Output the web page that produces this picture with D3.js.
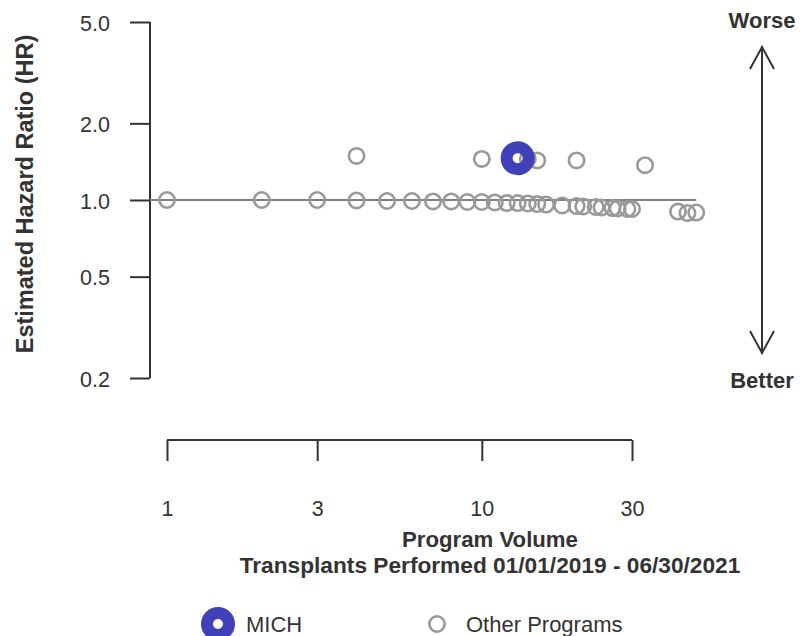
<!DOCTYPE html>
<html><head><meta charset="utf-8">
<script src="https://cdn.jsdelivr.net/npm/d3@7"></script>
<style>body{margin:0;background:#fff}text{font-family:"Liberation Sans",Arial,sans-serif}</style>
</head><body>
<svg id="c" width="806" height="636"></svg>
<script>
// Data
const otherVolume = [1,2,3,4,5,6,7,8,9,10,11,12,13,14,15,16,18,20,21,23,24,26,27,29,30,42,45,48, 4,10,14,15,20,33];
const otherHR     = [1.0,1.0,1.0,0.996,0.991,0.991,0.987,0.987,0.982,0.982,0.978,0.973,0.973,0.969,0.964,0.96,0.952,0.947,0.943,0.939,0.935,0.93,0.926,0.922,0.922,0.901,0.889,0.893, 1.49,1.45,1.45,1.43,1.43,1.37];
const michVolume = [13];
const michHR = [1.46];
const yTicks = [0.2,0.5,1.0,2.0,5.0];
const xTicks = [1,3,10,30];

const svg = d3.select("#c");
const ink = "#333";
const FF = "Liberation Sans, Arial, sans-serif";
const x = d3.scaleLog().domain([1,30]).range([167,632]);
const y = d3.scaleLog().domain([0.2,5]).range([378,22]);

// y axis
const yAx = svg.append("g").attr("transform","translate(150,0)")
  .call(d3.axisLeft(y).tickValues(yTicks).tickFormat(d3.format(".1f")).tickSize(20).tickPadding(20));
yAx.select(".domain").attr("stroke",ink).attr("stroke-width",2).attr("d","M0,22H0V378H0");
yAx.selectAll(".tick line").attr("stroke",ink).attr("stroke-width",2);
yAx.selectAll(".tick text").attr("fill",ink).attr("dy",null).attr("y",8)
  .style("font-size","21.5px").style("font-family",FF);

// x axis
const xAx = svg.append("g").attr("transform","translate(0,440)")
  .call(d3.axisBottom(x).tickValues(xTicks).tickFormat(d3.format("d")).tickSize(21));
xAx.select(".domain").attr("stroke",ink).attr("stroke-width",2).attr("d","M167,0H632");
xAx.selectAll(".tick line").attr("stroke",ink).attr("stroke-width",2);
xAx.selectAll(".tick text").attr("fill",ink).attr("dy",null).attr("y",76)
  .style("font-size","21.5px").style("font-family",FF);

// reference line
svg.append("line").attr("x1",150).attr("x2",x(d3.max(otherVolume)))
  .attr("y1",y(1)).attr("y2",y(1)).attr("stroke","#808080").attr("stroke-width",2);

// other points
const pts = otherVolume.map((v,i)=>({v,hr:otherHR[i]}));
svg.append("g").selectAll("circle").data(pts).join("circle")
  .attr("cx",d=>x(d.v)).attr("cy",d=>y(d.hr)).attr("r",7.7)
  .attr("fill","none").attr("stroke","#999").attr("stroke-width",2.6);

// MICH
svg.append("g").selectAll("circle").data(michVolume.map((v,i)=>({v,hr:michHR[i]}))).join("circle")
  .attr("cx",d=>x(d.v)).attr("cy",d=>y(d.hr)).attr("r",11)
  .attr("fill","none").attr("stroke","#4040b8").attr("stroke-width",12);

// axis titles
svg.append("text").attr("transform","translate(33,194) rotate(-90)").attr("text-anchor","middle")
  .attr("fill",ink).style("font-size","23.5px").style("font-weight","bold").text("Estimated Hazard Ratio (HR)");
svg.append("text").attr("x",490).attr("y",547).attr("text-anchor","middle")
  .attr("fill",ink).style("font-size","22.2px").style("font-weight","bold").text("Program Volume");
svg.append("text").attr("x",490).attr("y",573).attr("text-anchor","middle")
  .attr("fill",ink).style("font-size","22.7px").style("font-weight","bold").text("Transplants Performed 01/01/2019 - 06/30/2021");

// worse / better arrow
svg.append("line").attr("x1",762).attr("x2",762).attr("y1",46).attr("y2",354).attr("stroke",ink).attr("stroke-width",2);
svg.append("path").attr("d","M750,69L762,47L774,69").attr("fill","none").attr("stroke",ink).attr("stroke-width",2);
svg.append("path").attr("d","M750,331L762,353L774,331").attr("fill","none").attr("stroke",ink).attr("stroke-width",2);
svg.append("text").attr("x",762).attr("y",28).attr("text-anchor","middle").attr("fill",ink)
  .style("font-size","22px").style("font-weight","bold").text("Worse");
svg.append("text").attr("x",762).attr("y",388).attr("text-anchor","middle").attr("fill",ink)
  .style("font-size","22px").style("font-weight","bold").text("Better");

// legend
svg.append("circle").attr("cx",218).attr("cy",624).attr("r",11).attr("fill","none").attr("stroke","#4040b8").attr("stroke-width",12);
svg.append("text").attr("x",246).attr("y",632).attr("fill",ink).style("font-size","22px").text("MICH");
svg.append("circle").attr("cx",437).attr("cy",624).attr("r",7.7).attr("fill","none").attr("stroke","#999").attr("stroke-width",2.6);
svg.append("text").attr("x",466).attr("y",632).attr("fill",ink).style("font-size","22px").text("Other Programs");
</script>
</body></html>
